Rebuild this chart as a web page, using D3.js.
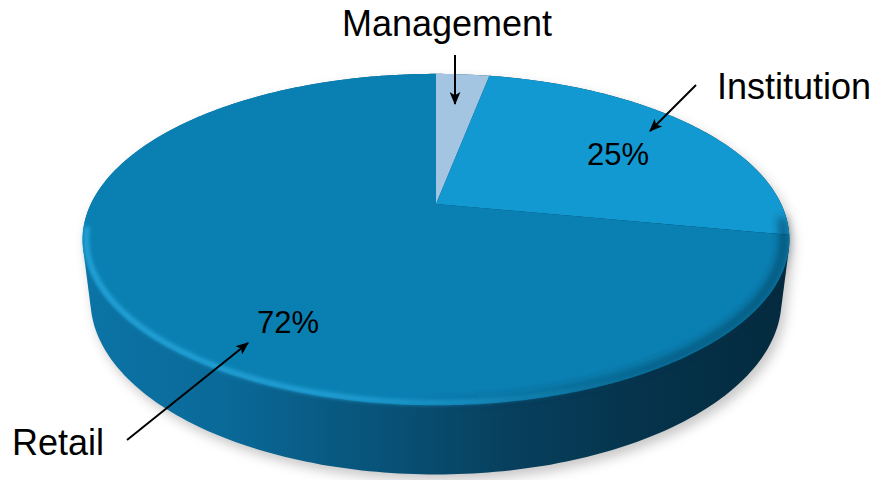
<!DOCTYPE html>
<html>
<head>
<meta charset="utf-8">
<script src="https://cdn.jsdelivr.net/npm/d3@7"></script>
<style>
  html, body { margin: 0; padding: 0; background: #ffffff; }
  svg { display: block; }
  text { font-family: "Liberation Sans", Arial, sans-serif; fill: #000; }
</style>
</head>
<body>
<svg id="chart" width="878" height="480"></svg>
<script>
// ---------------- data ----------------
const categories = ["Management", "Institution", "Retail"];
const values = [3, 25, 72];
const showPercent = [false, true, true];
const sliceColors = ["#A3C5E1", "#1399D1", "#0A80B2"];

// ---------------- layout ----------------
const W = 878, H = 480;
const svg = d3.select("#chart");
const defs = svg.append("defs");

// perspective projection of a disc of radius 1 (tilted camera)
const cx = 436, cy0 = 204;
const sinT = 0.458, cosT = Math.sqrt(1 - sinT * sinT);
const Dist = 4.14, Focal = 1429, thick = 0.196;

function proj(theta, r, h) {
  const X = r * Math.sin(theta), Z = r * Math.cos(theta);
  const depth = Dist + Z * cosT - h * sinT;
  const up = h * cosT + Z * sinT;
  return [cx + Focal * X / depth, cy0 - Focal * up / depth];
}
function arcPts(a0, a1, r, h, stepDeg) {
  const n = Math.max(2, Math.ceil(Math.abs(a1 - a0) / (stepDeg * Math.PI / 180)));
  return d3.range(n + 1).map(i => proj(a0 + (a1 - a0) * i / n, r, h));
}

const pie = d3.pie().sort(null).value(d => d).startAngle(0).endAngle(2 * Math.PI);
const arcs = pie(values);

// ---------- defs: filters & gradients ----------
const shadowF = defs.append("filter").attr("id", "shadow")
  .attr("x", "-10%").attr("y", "-10%").attr("width", "120%").attr("height", "130%");
shadowF.append("feGaussianBlur").attr("stdDeviation", 6);

const blurF = defs.append("filter").attr("id", "soft")
  .attr("x", "-5%").attr("y", "-20%").attr("width", "110%").attr("height", "140%");
blurF.append("feGaussianBlur").attr("stdDeviation", 2);

const blurF2 = defs.append("filter").attr("id", "soft2")
  .attr("x", "-5%").attr("y", "-20%").attr("width", "110%").attr("height", "140%");
blurF2.append("feGaussianBlur").attr("stdDeviation", 4);

const sideGrad = defs.append("linearGradient").attr("id", "sideGrad")
  .attr("gradientUnits", "userSpaceOnUse").attr("x1", 80).attr("y1", 0).attr("x2", 790).attr("y2", 0);
[[0, "#0B74A6"], [0.2, "#0A6A99"], [0.4, "#08557C"], [0.6, "#07405E"], [0.8, "#05334B"], [1, "#042A3E"]]
  .forEach(([o, c]) => sideGrad.append("stop").attr("offset", o).attr("stop-color", c));

const hiGrad = defs.append("linearGradient").attr("id", "hiGrad")
  .attr("gradientUnits", "userSpaceOnUse").attr("x1", 80).attr("y1", 0).attr("x2", 790).attr("y2", 0);
[[0, 0.95], [0.35, 0.85], [0.6, 0.35], [0.8, 0.0], [1, 0.0]]
  .forEach(([o, a]) => hiGrad.append("stop").attr("offset", o).attr("stop-color", "#2FB0E6").attr("stop-opacity", a));

const rimDark = defs.append("linearGradient").attr("id", "rimDark")
  .attr("gradientUnits", "userSpaceOnUse").attr("x1", 80).attr("y1", 0).attr("x2", 790).attr("y2", 0);
[[0, 0.0], [0.45, 0.0], [0.7, 0.45], [1, 0.7]]
  .forEach(([o, a]) => rimDark.append("stop").attr("offset", o).attr("stop-color", "#043048").attr("stop-opacity", a));

// arrow marker
defs.append("marker").attr("id", "arrow")
  .attr("viewBox", "0 0 12 10").attr("refX", 11).attr("refY", 5)
  .attr("markerWidth", 6.5).attr("markerHeight", 5.5).attr("markerUnits", "strokeWidth")
  .attr("orient", "auto")
  .append("path").attr("d", "M0,0 L12,5 L0,10 L3,5 Z").attr("fill", "#000");

// ---------- solid outline (convex hull of top & bottom rims) ----------
const rimTop = arcPts(0, 2 * Math.PI, 1, 0, 1);
const rimBot = arcPts(0, 2 * Math.PI, 1, -thick, 1);
const hull = d3.polygonHull(rimTop.concat(rimBot));
const line = d3.line();

// shadow
svg.append("path")
  .attr("d", line(hull) + "Z")
  .attr("transform", "translate(4,6)")
  .attr("fill", "#000").attr("fill-opacity", 0.22)
  .attr("filter", "url(#shadow)");

// side
svg.append("path")
  .attr("d", line(hull) + "Z")
  .attr("fill", "url(#sideGrad)");

// ---------- top face slices ----------
const apex = proj(0, 0, 0);
svg.append("g").selectAll("path").data(arcs).join("path")
  .attr("d", d => line([apex].concat(arcPts(d.startAngle, d.endAngle, 1, 0, 0.5))) + "Z")
  .attr("fill", (d, i) => sliceColors[i]);

// darker soft band along right front rim of the top face
svg.append("path")
  .attr("d", line(arcPts(95 * Math.PI / 180, 200 * Math.PI / 180, 0.985, 0, 1)))
  .attr("fill", "none").attr("stroke", "url(#rimDark)").attr("stroke-width", 7)
  .attr("filter", "url(#soft2)");

// bevel highlight along left/front rim
svg.append("path")
  .attr("d", line(arcPts(120 * Math.PI / 180, 262 * Math.PI / 180, 0.99, 0, 1)))
  .attr("fill", "none").attr("stroke", "url(#hiGrad)").attr("stroke-width", 4)
  .attr("filter", "url(#soft)");

// ---------- labels ----------
const fmt = v => d3.format(".0f")(v) + "%";
const total = d3.sum(values);

const pctPos = [null, [587, 165], [257, 333]];
svg.append("g").selectAll("text").data(arcs.filter((d, i) => showPercent[i])).join("text")
  .attr("x", d => pctPos[d.index][0]).attr("y", d => pctPos[d.index][1])
  .attr("font-size", 31)
  .text(d => fmt(100 * d.value / total));

const namePos = [[447, 36, "middle"], [717, 99, "start"], [12, 455, "start"]];
svg.append("g").selectAll("text").data(categories).join("text")
  .attr("x", (d, i) => namePos[i][0]).attr("y", (d, i) => namePos[i][1])
  .attr("text-anchor", (d, i) => namePos[i][2])
  .attr("font-size", 36)
  .text(d => d);

// callout arrows
const arrowLines = [[455, 55, 455, 104], [696, 85, 650, 131], [127, 440, 248, 343]];
svg.append("g").selectAll("line").data(arrowLines).join("line")
  .attr("x1", d => d[0]).attr("y1", d => d[1]).attr("x2", d => d[2]).attr("y2", d => d[3])
  .attr("stroke", "#000").attr("stroke-width", 2)
  .attr("marker-end", "url(#arrow)");
</script>
</body>
</html>
